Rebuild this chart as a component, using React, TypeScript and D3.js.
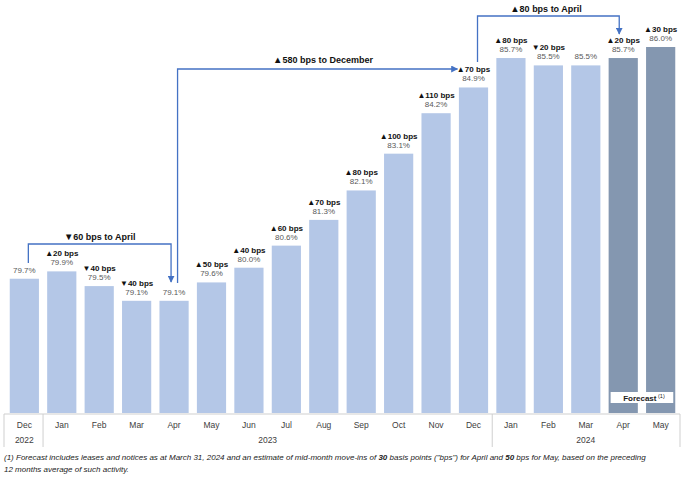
import React from "react";
import * as d3 from "d3";

const months = ["Dec", "Jan", "Feb", "Mar", "Apr", "May", "Jun", "Jul", "Aug", "Sep", "Oct", "Nov", "Dec", "Jan", "Feb", "Mar", "Apr", "May"];
const occupancy = [79.7, 79.9, 79.5, 79.1, 79.1, 79.6, 80.0, 80.6, 81.3, 82.1, 83.1, 84.2, 84.9, 85.7, 85.5, 85.5, 85.7, 86.0];
const bpsChange: (number | null)[] = [null, 20, -40, -40, null, 50, 40, 60, 70, 80, 100, 110, 70, 80, -20, null, 20, 30];
const forecast = [false, false, false, false, false, false, false, false, false, false, false, false, false, false, false, false, true, true];
const yearGroups = [
  { label: "2022", from: 0, to: 0 },
  { label: "2023", from: 1, to: 12 },
  { label: "2024", from: 13, to: 17 },
];
const brackets = [
  { dir: "down", bps: 60, text: "bps to April", from: 0, to: 4 },
  { dir: "up", bps: 580, text: "bps to December", from: 4, to: 12 },
  { dir: "up", bps: 80, text: "bps to April", from: 12, to: 16 },
];

const W = 682;
const H = 478;
const FONT = "'Liberation Sans', Arial, sans-serif";
const BAR = "#b4c7e7";
const BAR_FC = "#8497b0";
const ARROW = "#4472c4";

export default function App() {
  const x = d3.scaleBand<number>().domain(d3.range(months.length)).range([6, 679]).paddingInner(0.22).paddingOuter(0.1);
  const y = d3.scaleLinear().domain([76.05, 86.0]).range([413, 47]);
  const bw = x.bandwidth();
  const gap = x.step() - bw;
  const cx = (i: number) => (x(i) as number) + bw / 2;
  const base = y.range()[0];

  const b1 = { x1: cx(0) + 4, y1: 263, yTop: 244, x2: cx(4) - 3, y2: 282, ty: 240 };
  const b2 = { x1: cx(4) + 3.5, y1: 283, yTop: 69, x2: cx(12) - 16 };
  const b3 = { x1: cx(12) + 4, y1: 62, yTop: 16, x2: cx(16) - 4, y2: 34 };

  const tri = (d: number) => (d >= 0 ? "▲" : "▼");

  return (
    <svg width={W} height={H} style={{ position: "absolute", left: 0, top: 0, background: "#fff" }} fontFamily={FONT}>
      <rect x={0} y={0} width={W} height={H} fill="#fff" />
      {occupancy.map((v, i) => (
        <rect key={"b" + i} x={x(i)} y={y(v)} width={bw} height={base - y(v)} fill={forecast[i] ? BAR_FC : BAR} />
      ))}
      {occupancy.map((v, i) => (
        <g key={"l" + i}>
          <text x={cx(i)} y={y(v) - 6} textAnchor="middle" fontSize={8} fill="#595959">
            {v.toFixed(1)}%
          </text>
          {bpsChange[i] !== null && (
            <text x={cx(i)} y={y(v) - 15} textAnchor="middle" fontSize={8} fontWeight="bold" fill="#111">
              <tspan fontSize={8}>{tri(bpsChange[i] as number)}</tspan>
              {Math.abs(bpsChange[i] as number)} bps
            </text>
          )}
        </g>
      ))}

      <rect x={(x(16) as number) + 2} y={392} width={x.step() + bw - 4} height={11} fill="#fff" />
      <text x={(x(16) as number) + x.step() / 2 + bw / 2 + 2} y={401} textAnchor="middle" fontSize={8} fontWeight="bold" fill="#222">
        Forecast
        <tspan fontSize={5.5} fontWeight="normal" dy={-3}> (1)</tspan>
      </text>

      <defs>
        <marker id="ah" viewBox="0 0 10 10" refX={9} refY={5} markerWidth={7} markerHeight={7} orient="auto" markerUnits="userSpaceOnUse">
          <path d="M0,0 L10,5 L0,10 z" fill={ARROW} />
        </marker>
      </defs>
      <path d={`M${b1.x1},${b1.y1} V${b1.yTop} H${b1.x2} V${b1.y2}`} fill="none" stroke={ARROW} strokeWidth={1.3} markerEnd="url(#ah)" />
      <path d={`M${b2.x1},${b2.y1} V${b2.yTop} H${b2.x2}`} fill="none" stroke={ARROW} strokeWidth={1.3} markerEnd="url(#ah)" />
      <path d={`M${b3.x1},${b3.y1} V${b3.yTop} H${b3.x2} V${b3.y2}`} fill="none" stroke={ARROW} strokeWidth={1.3} markerEnd="url(#ah)" />

      <text x={(b1.x1 + b1.x2) / 2} y={b1.ty} textAnchor="middle" fontSize={9} fontWeight="bold" fill="#111">
        <tspan fontSize={9.5}>{tri(-1)}</tspan>
        {brackets[0].bps} {brackets[0].text}
      </text>
      <text x={323} y={63} textAnchor="middle" fontSize={9} fontWeight="bold" fill="#111">
        <tspan fontSize={9.5}>{tri(1)}</tspan>
        {brackets[1].bps} {brackets[1].text}
      </text>
      <text x={546} y={12} textAnchor="middle" fontSize={9} fontWeight="bold" fill="#111">
        <tspan fontSize={9.5}>{tri(1)}</tspan>
        {brackets[2].bps} {brackets[2].text}
      </text>

      <line x1={4} x2={680} y1={414} y2={414} stroke="#cfcfcf" strokeWidth={1} />
      {[0, 1, 13].map((g) => (
        <line key={"s" + g} x1={g === 0 ? 4 : (x(g) as number) - gap / 2} x2={g === 0 ? 4 : (x(g) as number) - gap / 2} y1={414} y2={447} stroke="#cfcfcf" strokeWidth={1} />
      ))}
      <line x1={680} x2={680} y1={414} y2={447} stroke="#cfcfcf" strokeWidth={1} />
      {months.map((m, i) => (
        <text key={"m" + i} x={cx(i)} y={428} textAnchor="middle" fontSize={8.5} fill="#404040">
          {m}
        </text>
      ))}
      {yearGroups.map((g) => (
        <text key={g.label} x={(cx(g.from) + cx(g.to)) / 2} y={443} textAnchor="middle" fontSize={8.5} fill="#404040">
          {g.label}
        </text>
      ))}

      <text x={4} y={460} fontSize={8} fontStyle="italic" fill="#222">
        (1) Forecast includes leases and notices as at March 31, 2024 and an estimate of mid-month move-ins of <tspan fontWeight="bold">30</tspan> basis points ("bps") for April and <tspan fontWeight="bold">50</tspan> bps for May, based on the preceding
      </text>
      <text x={4} y={472} fontSize={8} fontStyle="italic" fill="#222">
        12 months average of such activity.
      </text>
    </svg>
  );
}
